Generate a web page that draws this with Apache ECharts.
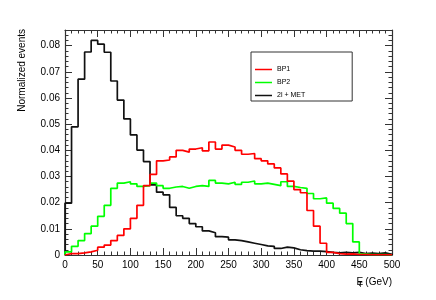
<!DOCTYPE html>
<html><head><meta charset="utf-8">
<script src="https://cdn.jsdelivr.net/npm/echarts@6/dist/echarts.min.js"></script>
<style>html,body{margin:0;padding:0;background:#fff}#c{width:436px;height:300px}</style>
</head><body><div id="c"></div>
<script>
// bin lower edges (GeV), bin width 10
const binLow = [0,10,20,30,40,50,60,70,80,90,100,110,120,130,140,150,160,170,180,190,200,210,220,230,240,250,260,270,280,290,300,310,320,330,340,350,360,370,380,390,400,410,420,430,440,450,460,470,480,490];
const binHigh = 500;
const xTicks = [0,50,100,150,200,250,300,350,400,450,500];
const yTicks = [0,0.01,0.02,0.03,0.04,0.05,0.06,0.07,0.08];

const bp1 = [0.0005,0.0005,0.0008,0.0012,0.0018,0.0030,0.0038,0.0055,0.0075,0.0100,
             0.0140,0.0190,0.0265,0.0308,0.0360,0.0363,0.0375,0.0400,0.0393,0.0405,
             0.0410,0.0398,0.0432,0.0405,0.0420,0.0413,0.0400,0.0385,0.0388,0.0368,
             0.0360,0.0348,0.0333,0.0310,0.0282,0.0250,0.0238,0.0170,0.0110,0.0045,
             0.0010,0.0005,0.0003,0.0004,0.0002,0.0002,0.0001,0.0001,0.0001,0.0001];
const bp2 = [0.0012,0.0033,0.0055,0.0082,0.0110,0.0148,0.0190,0.0255,0.0275,0.0280,
             0.0272,0.0262,0.0265,0.0275,0.0265,0.0255,0.0260,0.0262,0.0255,0.0262,
             0.0265,0.0262,0.0285,0.0275,0.0272,0.0278,0.0270,0.0278,0.0283,0.0272,
             0.0275,0.0270,0.0265,0.0280,0.0262,0.0258,0.0255,0.0235,0.0215,0.0218,
             0.0198,0.0178,0.0160,0.0120,0.0050,0.0003,0.0002,0.0002,0.0002,0.0001];
const bkg = [0.0198,0.0490,0.0672,0.0776,0.0820,0.0806,0.0775,0.0665,0.0592,0.0520,
             0.0459,0.0401,0.0357,0.0268,0.0240,0.0230,0.0182,0.0150,0.0140,0.0120,
             0.0108,0.0092,0.0085,0.0070,0.0068,0.0058,0.0055,0.0050,0.0045,0.0040,
             0.0035,0.0033,0.0025,0.0030,0.0027,0.0020,0.0017,0.0015,0.0015,0.0013,
             0.0010,0.0008,0.0010,0.0008,0.0010,0.0005,0.0007,0.0005,0.0008,0.0003];

const seriesNames = ['BP1','BP2','2l + MET'];
const seriesColors = ['#ff0000','#00ff00','#111111'];

function hist(vals){
  const pts = [[binLow[0],0]];
  vals.forEach((v,i)=>pts.push([binLow[i],v]));
  pts.push([binHigh, vals[vals.length-1]]);
  pts.push([binHigh, 0]);
  return pts;
}

const FONT = 'Liberation Sans, Arial, Helvetica, sans-serif';
const frameColor = '#333';
const chart = echarts.init(document.getElementById('c'), null, {renderer:'canvas'});

function axisDef(kind, pos, interval, tickLen, showLine, labelFn){
  const a = {
    type:'value', position:pos, interval:interval,
    min:0, max: kind==='x' ? 500 : 0.086,
    axisLine:{show:showLine, onZero:false, lineStyle:{color:frameColor, width:1.2}},
    axisTick:{show:true, inside:true, length:tickLen, lineStyle:{color:frameColor, width:1}},
    minorTick:{show:false},
    splitLine:{show:false},
    axisLabel: labelFn ? {show:true, margin:5, fontSize:10, color:'#000', fontFamily:FONT, formatter:labelFn} : {show:false}
  };
  return a;
}
const xLab = (v)=> xTicks.indexOf(v)>=0 ? String(v) : '';
const yLab = (v)=>{ const k = yTicks.findIndex(t=>Math.abs(t-v)<1e-9); if(k<0) return ''; return v===0 ? '0' : v.toFixed(2); };

const option = {
  animation:false,
  backgroundColor:'#ffffff',
  grid:{left:65, right:44, top:30, bottom:45, containLabel:false},
  xAxis:[
    axisDef('x','bottom',50,7,true,xLab),
    axisDef('x','top',50,7,true,null),
    axisDef('x','bottom',10,3.5,false,null),
    axisDef('x','top',10,3.5,false,null)
  ],
  yAxis:[
    axisDef('y','left',0.01,7,true,yLab),
    axisDef('y','right',0.01,7,true,null),
    axisDef('y','left',0.002,3.5,false,null),
    axisDef('y','right',0.002,3.5,false,null)
  ],
  legend:{
    orient:'vertical', left:251, top:52,
    padding:[13,47,1,4], itemGap:4,
    itemWidth:17, itemHeight:1.5, icon:'rect',
    backgroundColor:'#fff', borderColor:'#333', borderWidth:1, borderRadius:0,
    textStyle:{fontSize:7, color:'#000', fontFamily:FONT, lineHeight:9},
    data: seriesNames.map((n,i)=>({name:n, itemStyle:{color:seriesColors[i]}}))
  },
  graphic:[
    {type:'text', x:22, y:29, rotation:Math.PI/2,
     style:{text:'Normalized events', fontSize:10, fontFamily:FONT, fill:'#000', align:'right', verticalAlign:'middle'}},
    {type:'text', x:392, y:282,
     style:{text:'{e|E}{s|/}{t|T}{g| (GeV)}', align:'right', verticalAlign:'middle', fill:'#000', fontFamily:FONT,
       rich:{
         e:{fontSize:10, fontFamily:FONT, fill:'#000'},
         s:{fontSize:8, fontFamily:FONT, fill:'#000', padding:[3,0,0,-4]},
         t:{fontSize:7, fontFamily:FONT, fill:'#000', padding:[7,0,0,-3]},
         g:{fontSize:10, fontFamily:FONT, fill:'#000'}
       }}}
  ],
  series:[bp1,bp2,bkg].map((vals,i)=>({
    name:seriesNames[i], type:'line', step:'end', data:hist(vals),
    xAxisIndex:0, yAxisIndex:0,
    showSymbol:false, symbol:'none', clip:true,
    lineStyle:{color:seriesColors[i], width:1.7},
    itemStyle:{color:seriesColors[i]},
    z: 3 - i
  }))
};
chart.setOption(option);
</script></body></html>
